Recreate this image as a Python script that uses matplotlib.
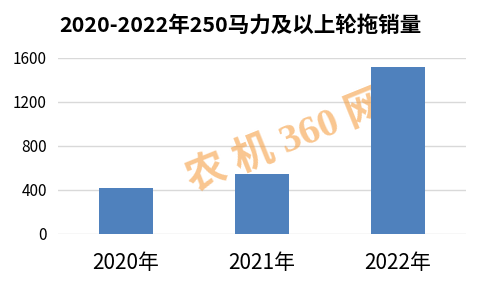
import matplotlib
matplotlib.use('Agg')
import matplotlib.pyplot as plt

plt.rcParams['font.family'] = ['Noto Sans CJK SC', 'DejaVu Sans']

# data
years = ['2020年', '2021年', '2022年']
sales = [420, 545, 1520]
yticks = [0, 400, 800, 1200, 1600]

fig = plt.figure(figsize=(4.8, 2.88), dpi=100, facecolor='w')
ax = fig.add_axes([0.121, 0.1875, 0.85, 0.6115])

ax.bar(range(len(years)), sales, width=0.4, color='#4F81BD', zorder=3)

# watermark behind bars
ax.text(0.56, 0.52, '农 机 360 网', transform=ax.transAxes, rotation=22,
        fontsize=29, fontweight='bold', color='#F5A046', alpha=0.6,
        family=['Liberation Serif', 'Noto Sans CJK SC'],
        ha='center', va='center', zorder=2)

ax.set_xlim(-0.5, len(years) - 0.5)
ax.set_ylim(0, 1600)
ax.set_yticks(yticks)
ax.set_xticks(range(len(years)))
ax.set_xticklabels(years, fontsize=15)
ax.tick_params(axis='y', labelsize=11, length=0, pad=8)
ax.tick_params(axis='x', length=0, pad=13)
ax.grid(axis='y', color='#d9d9d9', linewidth=1, zorder=0)
for s in ax.spines.values():
    s.set_visible(False)

fig.text(0.5, 0.912, '2020-2022年250马力及以上轮拖销量', ha='center', va='center',
         fontsize=15.5, fontweight='bold')

plt.savefig('out.png', dpi=100)
